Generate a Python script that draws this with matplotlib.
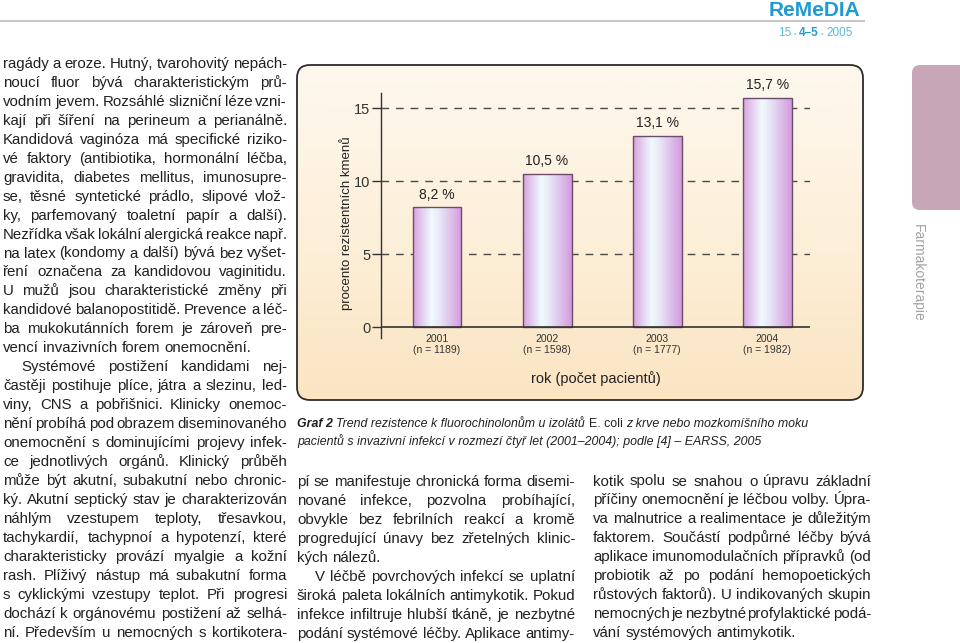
import numpy as np
import matplotlib
matplotlib.use("Agg")
import matplotlib.pyplot as plt
from matplotlib.patches import FancyBboxPatch
from matplotlib.colors import LinearSegmentedColormap

# ---- chart data -------------------------------------------------------------
years      = ["2001", "2002", "2003", "2004"]
patients   = [1189, 1598, 1777, 1982]
resistance = [8.2, 10.5, 13.1, 15.7]
y_ticks    = [0, 5, 10, 15]

# ---- page text --------------------------------------------------------------
left_col = [
    "ragády a eroze. Hutný, tvarohovitý nepách-",
    "noucí fluor bývá charakteristickým prů-",
    "vodním jevem. Rozsáhlé slizniční léze vzni-",
    "kají při šíření na perineum a perianálně.",
    "Kandidová vaginóza má specifické riziko-",
    "vé faktory (antibiotika, hormonální léčba,",
    "gravidita, diabetes mellitus, imunosupre-",
    "se, těsné syntetické prádlo, slipové vlož-",
    "ky, parfemovaný toaletní papír a další).",
    "Nezřídka však lokální alergická reakce např.",
    "na latex (kondomy a další) bývá bez vyšet-",
    "ření označena za kandidovou vaginitidu.",
    "U mužů jsou charakteristické změny při",
    "kandidové balanopostitidě. Prevence a léč-",
    "ba mukokutánních forem je zároveň pre-",
    "vencí invazivních forem onemocnění.",
    "Systémové postižení kandidami nej-",
    "častěji postihuje plíce, játra a slezinu, led-",
    "viny, CNS a pobřišnici. Klinicky onemoc-",
    "nění probíhá pod obrazem diseminovaného",
    "onemocnění s dominujícími projevy infek-",
    "ce jednotlivých orgánů. Klinický průběh",
    "může být akutní, subakutní nebo chronic-",
    "ký. Akutní septický stav je charakterizován",
    "náhlým vzestupem teploty, třesavkou,",
    "tachykardií, tachypnoí a hypotenzí, které",
    "charakteristicky provází myalgie a kožní",
    "rash. Plíživý nástup má subakutní forma",
    "s cyklickými vzestupy teplot. Při progresi",
    "dochází k orgánovému postižení až selhá-",
    "ní. Především u nemocných s kortikotera-",
]
mid_col = [
    "pí se manifestuje chronická forma disemi-",
    "nované infekce, pozvolna probíhající,",
    "obvykle bez febrilních reakcí a kromě",
    "progredující únavy bez zřetelných klinic-",
    "kých nálezů.",
    "V léčbě povrchových infekcí se uplatní",
    "široká paleta lokálních antimykotik. Pokud",
    "infekce infiltruje hlubší tkáně, je nezbytné",
    "podání systémové léčby. Aplikace antimy-",
]
right_col = [
    "kotik spolu se snahou o úpravu základní",
    "příčiny onemocnění je léčbou volby. Úpra-",
    "va malnutrice a realimentace je důležitým",
    "faktorem. Součástí podpůrné léčby bývá",
    "aplikace imunomodulačních přípravků (od",
    "probiotik až po podání hemopoetických",
    "růstových faktorů). U indikovaných skupin",
    "nemocných je nezbytné profylaktické podá-",
    "vání systémových antimykotik.",
]

plt.rcParams["font.family"] = ["Liberation Sans", "DejaVu Sans"]

INK = "#231f20"
BODY_FS = 10.8
W, H = 960, 643

fig = plt.figure(figsize=(W / 100, H / 100), dpi=100)
page = fig.add_axes([0, 0, 1, 1])
renderer = fig.canvas.get_renderer()


def width(t):
    return t.get_window_extent(renderer).width


def space_width(**kw):
    a = page.text(0, 0, "n n", **kw)
    b = page.text(0, 0, "nn", **kw)
    w = width(a) - width(b)
    a.remove()
    b.remove()
    return w


def body_line(s, x0, x1, y, justify=True, indent=0):
    words = s.split()
    ts = [page.text(0, y, w, fontsize=BODY_FS, color=INK, va="baseline") for w in words]
    ws = [width(t) for t in ts]
    x = x0 + indent
    if justify and len(ws) > 1:
        gap = max((x1 - x - sum(ws)) / (len(ws) - 1), 1.0)
    else:
        gap = SPACE
    for t, w in zip(ts, ws):
        t.set_x(x)
        x += w + gap


def runs(x, y, parts, gap):
    texts = []
    for s, kw in parts:
        t = page.text(x, y, s, va="baseline", **kw)
        texts.append(t)
        x += width(t) + gap
    return x, texts


SPACE = space_width(fontsize=BODY_FS)
STEP = 18.97

# (lines, x0, x1, first line centre, paragraph-end lines, indented lines)
columns = [
    (left_col, 3, 287, 63.3, {15}, {16}),
    (mid_col, 297, 575, 481.7, {4}, {5}),
    (right_col, 593, 871, 481.0, {8}, set()),
]
for lines, x0, x1, y0, ends, indents in columns:
    for i, s in enumerate(lines):
        body_line(s, x0, x1, y0 + 4.5 + i * STEP, justify=(i not in ends),
                  indent=18 if i in indents else 0)

# ---- header -----------------------------------------------------------------
page.plot([0, 864], [21, 21], color="#c6c6c6", lw=1.5)
page.text(860, 10, "ReMeDIA", ha="right", va="center", fontsize=15,
          fontweight="bold", color="#1f9bd4")
date_parts = [("15", dict(fontsize=8.5, color="#5cb6dc")),
              ("•", dict(fontsize=5.5, color="#9ccfe6")),
              ("4–5", dict(fontsize=8.5, color="#1f9bd4", fontweight="bold")),
              ("•", dict(fontsize=5.5, color="#9ccfe6")),
              ("2005", dict(fontsize=8.5, color="#5cb6dc"))]
total, probe = runs(0, 300, date_parts, 2.5)
for t in probe:
    t.remove()
runs(855 - total, 36, date_parts, 2.5)

# ---- side tab ---------------------------------------------------------------
page.add_patch(FancyBboxPatch((912, 65), 70, 145, boxstyle="round,pad=0,rounding_size=8",
                              fc="#c7a7b7", ec="none"))
page.text(918, 273, "Farmakoterapie", rotation=-90, ha="center", va="center",
          fontsize=10, color="#a3a3a3")

# ---- chart frame with gradient ---------------------------------------------
frame = FancyBboxPatch((297, 65), 566, 335, boxstyle="round,pad=0,rounding_size=13",
                       fc="none", ec="#2b2b2b", lw=1.3, zorder=2)
page.add_patch(frame)
frame_cmap = LinearSegmentedColormap.from_list("frame", ["#fdf8ee", "#fdf0da", "#fbe4c2"])
bg = page.imshow(np.linspace(0, 1, 200).reshape(-1, 1), cmap=frame_cmap, aspect="auto",
                 extent=(297, 863, 400, 65), zorder=1)
bg.set_clip_path(frame)

# ---- caption ----------------------------------------------------------------
CAP_FS = 8.9
cap_sp = space_width(fontsize=CAP_FS, style="italic")
runs(297, 427, [("Graf 2", dict(fontsize=CAP_FS, style="italic", fontweight="bold", color=INK)),
                ("Trend rezistence k fluorochinolonům u izolátů",
                 dict(fontsize=CAP_FS, style="italic", color=INK)),
                ("E. coli", dict(fontsize=CAP_FS, color=INK)),
                ("z krve nebo mozkomíšního moku", dict(fontsize=CAP_FS, style="italic", color=INK))],
     cap_sp)
page.text(297, 445, "pacientů s invazivní infekcí v rozmezí čtyř let (2001–2004); podle [4] – EARSS, 2005",
          fontsize=CAP_FS, style="italic", color=INK, va="baseline")

page.set_xlim(0, W)
page.set_ylim(H, 0)
page.axis("off")

# ---- bar chart --------------------------------------------------------------
ax = fig.add_axes([381 / W, 1 - 338 / H, 429 / W, 244.6 / H])
ax.patch.set_visible(False)
x = np.arange(len(years))
bars = ax.bar(x, resistance, width=0.445, facecolor="none", edgecolor="#6b4d6b",
              linewidth=1.0, zorder=3)
bar_cmap = LinearSegmentedColormap.from_list(
    "bar", [(0, "#d8a4e1"), (0.38, "#f0fafd"), (0.52, "#e8ecf8"), (1, "#d59ade")])
for b in bars:
    x0, y0, x1, y1 = b.get_bbox().extents
    im = ax.imshow(np.linspace(0, 1, 100).reshape(1, -1), cmap=bar_cmap, aspect="auto",
                   extent=(x0, x1, y0, y1), zorder=2)
    im.set_clip_path(b)

for v in y_ticks[1:]:
    ax.axhline(v, color="#4a4a4a", lw=1.0, ls=(0, (5.5, 5)), zorder=1)
ax.axhline(0, color="#333333", lw=1.2, zorder=4)

for xi, v in zip(x, resistance):
    ax.annotate(f"{v:.1f} %".replace(".", ","), (xi, v), xytext=(0, 4),
                textcoords="offset points", ha="center", va="bottom",
                fontsize=10, color="#222222")

ax.set_xlim(-0.509, 3.39)
ax.set_ylim(-0.75, 16)
ax.set_yticks(y_ticks)
ax.set_xticks(x, [f"{y}\n(n = {n})" for y, n in zip(years, patients)],
              fontsize=7.5, linespacing=1.1)
ax.tick_params(axis="x", length=0, pad=-3, labelcolor="#333333")
ax.tick_params(axis="y", length=6.5, width=1, color="#333333", labelcolor="#333333",
               labelsize=10.5, pad=1)
for side in ("top", "right", "bottom"):
    ax.spines[side].set_visible(False)
ax.spines["left"].set_color("#333333")
ax.spines["left"].set_linewidth(1.0)

ax.set_ylabel("procento rezistentních kmenů", fontsize=9.5, color="#222222")
ax.yaxis.set_label_coords(-0.065, 0.47)
ax.set_xlabel("rok (počet pacientů)", fontsize=10.5, color="#222222")
ax.xaxis.set_label_coords(0.5, -0.135)

fig.savefig("out.png", dpi=100)
